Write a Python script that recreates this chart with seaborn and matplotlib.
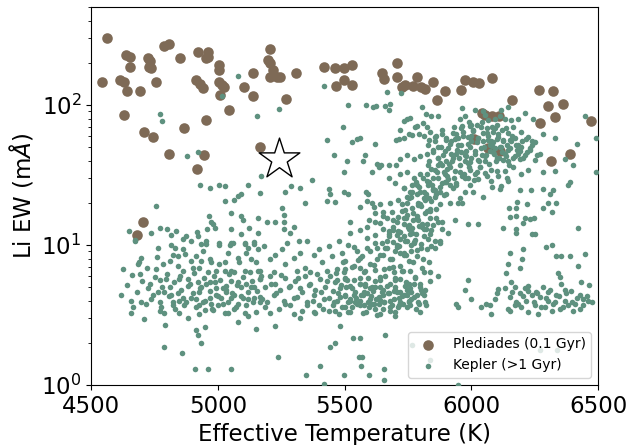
import numpy as np
import pandas as pd
import matplotlib
matplotlib.use("Agg")
import matplotlib.pyplot as plt
import seaborn as sns

# ---------------- Pleiades (0.1 Gyr) ----------------
pleiades_teff = [4563, 4543, 4614, 4630, 4642, 4630, 4637, 4653, 4653, 4693,
                 4725, 4732, 4727, 4737, 4756, 4788, 4807, 4709, 4743, 4808,
                 4851, 4867, 4922, 4962, 4954, 4962, 4914, 4930, 4941, 4954,
                 4946, 4917, 5004, 5006, 5006, 5017, 5025, 5009, 5044, 5104,
                 5139, 5139, 5164, 5207, 5196, 5207, 5218, 5207, 5231, 5246,
                 5270, 5306, 4704, 4682, 5420, 5460, 5499, 5528, 5465, 5499,
                 5528, 5649, 5654, 5705, 5705, 5728, 5736, 5768, 5784, 5800,
                 5815, 5847, 5863, 5894, 5958, 5974, 6005, 6029, 6081, 6160,
                 6042, 6053, 6081, 6108, 6266, 6321, 6302, 6329, 6361, 6271,
                 6472, 6313, 6388, 6010, 6066, 6113]
pleiades_ew = [299, 147, 150, 147, 125, 85, 228, 221, 188, 125,
               217, 205, 188, 183, 147, 265, 272, 64, 59, 45,
               217, 68, 240, 240, 217, 221, 150, 142, 133, 78,
               44, 35, 193, 178, 147, 140, 135, 118, 92, 135,
               168, 115, 50, 252, 210, 199, 178, 159, 159, 159,
               110, 170, 14.7, 11.8, 188, 183, 183, 193, 137, 150,
               139, 168, 154, 200, 159, 135, 140, 137, 159, 135,
               130, 147, 109, 125, 128, 150, 147, 143, 156, 109,
               87, 85, 83, 83, 128, 125, 98, 82, 102, 74,
               77, 40, 45, 57, 49, 47]

# ---------------- Kepler (>1 Gyr), read region by region ----------------
# cool stars, low Li
kep_cool_low_teff = [4671, 4816, 4829, 4895, 4934, 4954, 5006, 5046, 5059, 5105, 5118, 5144, 5158,
                     4763, 4862, 4822, 4842, 4697, 4684, 4914, 4934, 4967, 4973, 5006, 5026, 5079, 5085, 5111, 5151,
                     4625, 4691, 4756, 4783, 4809, 4842, 4862, 4895, 4901, 4927, 4960, 4993, 5026, 5052, 5065, 5105, 5125, 5158,
                     4730, 4724, 4770, 4796, 4809, 4848, 4881, 4888, 4921, 4934, 4954, 4967, 4987, 4993, 5019, 5033, 5052, 5079, 5092, 5111, 5131, 5144, 5164,
                     4618, 4658, 4664, 4697, 4737, 4763, 4770, 4789, 4816, 4822, 4842, 4848, 4862, 4868, 4895, 4914, 4927, 4941, 4967, 4973, 4993, 5013, 5033, 5039, 5052, 5065, 5079, 5098, 5118, 5144, 5164,
                     4658, 4710, 4770, 4789, 4822, 4848, 4881, 4914, 4927, 4947, 4980, 5000, 5026, 5039, 5065, 5105, 5118, 5151,
                     4914, 4921, 4934, 4789, 4858, 4908, 4960, 5050,
                     4640, 4660, 4680, 4700, 4715, 4720, 4745, 4750, 4775, 4780,
                     4800, 4805, 4825, 4830, 4850, 4855, 4875, 4880, 4900, 4905,
                     4925, 4930, 4945, 4950, 4970, 4975, 4985, 5000, 5010, 5020,
                     5030, 5045, 5055, 5070, 5075, 5090, 5100, 5110, 5120, 5135,
                     5140, 5155, 5170, 5175, 5185, 4690, 4760, 4870, 4940, 5040,
                     5130, 4790, 4950, 5080, 5150]
kep_cool_low_ew = [10.6, 10.0, 9.5, 10.6, 10.2, 10.2, 10.0, 10.0, 10.3, 10.2, 9.5, 10.2, 9.3,
                   9.5, 9.3, 8.5, 8.3, 8.1, 7.3, 8.3, 7.7, 7.9, 7.5, 7.3, 7.5, 8.1, 7.5, 8.8, 7.5,
                   6.7, 6.2, 6.7, 7.3, 7.7, 7.1, 6.5, 7.7, 6.9, 6.9, 6.4, 6.5, 6.5, 6.5, 6.4, 6.5, 6.4, 6.5,
                   5.3, 4.9, 5.6, 5.7, 5.0, 5.7, 5.7, 5.3, 5.4, 5.0, 5.3, 5.4, 5.4, 4.9, 4.9, 5.1, 5.5, 5.4, 5.0, 5.3, 5.0, 5.0, 5.7,
                   4.4, 4.0, 3.6, 3.9, 4.1, 4.6, 3.9, 4.6, 4.4, 3.9, 4.5, 4.0, 4.2, 3.7, 4.2, 4.1, 4.6, 3.9, 4.2, 3.8, 4.4, 4.2, 4.6, 3.9, 4.2, 4.4, 3.8, 4.2, 4.1, 4.2, 3.9,
                   3.25, 2.95, 3.4, 3.25, 3.7, 3.25, 3.0, 3.6, 3.2, 3.45, 3.45, 3.7, 3.25, 3.25, 3.5, 3.25, 3.1, 3.3,
                   2.47, 2.29, 2.0, 1.88, 1.68, 1.29, 1.29, 1.29,
                   5.2, 6.1, 4.6, 5.5, 3.8, 6.8, 4.4, 5.9, 3.6, 5.0,
                   6.2, 4.3, 5.4, 3.5, 6.0, 4.8, 3.9, 5.1, 4.5, 6.3,
                   3.7, 4.9, 5.8, 4.0, 4.7, 3.5, 6.0, 4.3, 5.6, 3.8,
                   4.8, 6.2, 4.5, 3.6, 5.2, 4.3, 5.9, 3.7, 4.6, 5.5,
                   3.9, 4.7, 6.0, 4.1, 3.6, 7.5, 8.2, 8.6, 9.0, 8.7,
                   8.0, 2.7, 2.6, 2.8, 2.5]

# cool stars, higher Li
kep_cool_high_teff = [4770, 4779, 4877, 4921, 4931, 4967, 5006, 5026, 5118, 5155,
                      5171, 5164, 4756, 5081, 5089, 5029, 5063, 5050, 4963, 4973,
                      4980, 5092, 5098, 5158, 4651, 4671, 4734, 4770, 4800, 4835,
                      4816, 4875, 4918, 4923, 4958, 4989, 5050, 5089, 5123, 5158,
                      4862, 4954, 5006, 5052, 5105, 5144, 5080, 5017]
kep_cool_high_ew = [86, 77, 43, 46, 27, 25.5, 27, 26.5, 27, 83,
                    31, 23.5, 19, 22.5, 23, 20.5, 20.8, 17, 16, 14.5,
                    14, 16, 15, 15.7, 12.5, 10.8, 12.2, 13.2, 13, 12.5,
                    11.8, 11.5, 12.3, 11.6, 13, 13.3, 13, 11.9, 13.2, 12.2,
                    11, 10.7, 10.4, 10.4, 10.4, 10.5, 161, 116]

# intermediate temperatures, upper part
kep_mid_high_teff = [5239, 5515, 5585, 5611, 5625, 5660, 5673, 5680, 5805, 5821,
                     5746, 5756, 5735, 5493, 5776, 5785, 5809, 5825, 5719, 5752,
                     5732, 5702, 5713, 5765, 5792, 5811, 5831, 5430, 5529, 5548,
                     5559, 5621, 5459, 5581, 5572, 5509, 5627, 5643, 5673, 5703,
                     5608, 5634, 5496, 5673, 5373, 5289, 5322, 5266, 5437, 5441,
                     5496, 5513, 5585, 5592, 5588, 5430, 5463, 5345, 5252, 5259,
                     5262, 5299, 5193, 5226, 5519, 5561, 5608, 5640, 5621, 5653,
                     5686, 5259, 5285, 5318, 5588, 5621, 5653, 5673, 5667, 5706,
                     5746, 5811,
                     5719, 5746, 5772, 5798, 5825, 5831, 5719, 5746, 5772, 5798,
                     5825, 5785, 5732, 5759, 5785, 5811, 5831, 5752, 5726, 5765,
                     5798, 5825, 5746, 5785, 5732, 5765, 5792, 5825, 5719, 5759,
                     5811, 5417, 5666, 5722, 6015]
kep_mid_high_ew = [94, 100, 100, 97, 98, 99, 92, 101, 96, 86,
                   79, 81, 77, 70, 70, 71, 74, 70, 66, 62,
                   58, 56, 57, 61, 62, 60, 56, 56, 54, 57,
                   58, 53, 44, 44, 40, 40, 38, 37, 37, 37,
                   33, 36, 33, 30, 29, 26.5, 25.5, 24, 25, 23.3,
                   24, 23.3, 24, 23, 20.6, 20.6, 20.4, 20, 18.4, 16.5,
                   14.6, 13.5, 14.5, 14.5, 14.5, 18.6, 20, 19.5, 16.8, 16,
                   17.2, 12.9, 12.1, 10.7, 13.4, 14.5, 12.9, 12, 10.7, 11.8,
                   10.7, 12.9,
                   41, 44, 41, 43, 45, 39.5, 32, 33, 30, 32,
                   28.5, 27, 25.5, 24, 23, 24, 21.7, 21.7, 19.5, 18.4,
                   19.5, 17.4, 16.5, 15.7, 14, 13.3, 13.6, 14, 12.4, 11.9,
                   11.5, 136, 124, 121, 92]

# hot stars, sparse
kep_hot_sparse_teff = [5842, 6145, 6447, 6493, 6493, 6418, 6401, 6371, 6331, 6283,
                       6184, 6158, 6283, 6329, 6283, 6322, 6309, 6381, 6388, 6191,
                       6234, 6181, 6174, 6221, 6302, 6316, 6283, 6335, 6147, 6151,
                       6177, 6204, 6210, 6230, 6247, 6177, 6174, 6237, 6250, 6125,
                       6421, 6081, 6116, 6112, 6046, 5993, 6007, 5963, 5947, 5987,
                       6026, 5934, 5882, 5908, 5875, 5961, 6046, 6118, 6210, 6243]
kep_hot_sparse_ew = [83, 97, 83, 58, 33, 53, 37, 41, 58, 62,
                     79, 78, 33, 34, 25, 24.5, 23, 27, 28, 24.5,
                     24.5, 20.4, 18.4, 19.5, 19.8, 17.2, 18.4, 19.8, 18.4, 15.8,
                     16, 14.4, 15.5, 15.2, 15.5, 13, 12.2, 11.9, 11.9, 13.2,
                     13.2, 26, 26.5, 25, 22, 27, 24, 19.8, 19.8, 14,
                     14.2, 15.1, 12.9, 12.1, 10.7, 95, 90, 92, 87, 80]

# hot stars, dense Li-rich clump
kep_clump_teff = [5868, 5954, 5974, 6020, 6053, 6066, 6092, 6112, 6131, 6039, 5993, 5961, 6164, 6138, 6092,
                  5836, 5855, 5882, 5901, 5928, 5947, 5967, 5987, 6007, 6026,
                  6046, 6066, 6085, 6105, 6125, 6145, 6171, 6197, 6224, 6237,
                  6000, 6079, 5921, 6151,
                  5829, 5849, 5868, 5888, 5908, 5928, 5947, 5960, 5980, 5993,
                  6013, 6026, 6039, 6059, 6072, 6085, 6099, 6112, 6131, 6151,
                  6171, 6191, 6210, 6230, 6250, 5901, 5974, 6053, 6145, 5941,
                  6000, 6092, 6125, 5868, 6184,
                  5829, 5855, 5875, 5895, 5914, 5934, 5954, 5974, 5993, 6013,
                  6033, 6053, 6079, 6105, 6131, 6164, 6197, 6224, 5849, 5908,
                  5961, 6026, 6079, 6145, 5987,
                  5829, 5855, 5882, 5901, 5928, 5954, 5842, 5875, 5914, 5974, 5941, 5862,
                  5836, 5862, 5849, 5882, 5836, 5855,
                  5880, 5900, 5920, 5940, 5960, 5980, 6000, 6020, 6040, 6060,
                  6080, 6100, 6120, 6140, 6160, 6180, 6200, 5910, 5950, 5990,
                  6030, 6070, 6110, 6150, 6190, 5870, 5890, 5930, 5970, 6010,
                  6050, 6090, 6000, 6040, 6080, 5960, 6120, 5860, 5850, 6220,
                  6240, 6260,
                  5855, 5870, 5885, 5895, 5905, 5915, 5925, 5935, 5945, 5955,
                  5965, 5975, 5985, 5995, 6005, 6015, 6025, 6035, 6045, 6055,
                  6065, 6075, 6085, 6095, 6105, 6115, 6125, 6135, 6145, 6155,
                  6165, 6175, 6185, 6195, 6205, 6215, 6230, 6250, 6270, 5900,
                  5940, 5985, 6020, 6060, 6100, 6140, 5990, 6060, 6100, 5930]
kep_clump_ew = [84, 80, 83, 72, 85, 78, 80, 83, 79, 70, 71, 71, 70, 68, 69,
                64, 59, 66, 56, 63, 58, 64, 59, 66, 58,
                63, 56, 64, 59, 55, 63, 58, 64, 59, 55,
                55, 55, 55, 56,
                52, 46.5, 50, 44, 49, 41.6, 52, 46.5, 43, 50,
                45, 40.5, 49, 44, 52, 46.5, 42, 50, 45, 49,
                43, 47, 44, 49, 40.5, 39.5, 39.5, 39.5, 39.5, 45,
                42, 49, 40.5, 42, 52,
                37, 34.5, 38.5, 32, 36, 33.5, 37, 30, 34.5, 32,
                36, 32.5, 34.5, 31, 33.5, 36, 32, 34.5, 30, 29.5,
                31, 29.5, 28.5, 28.5, 38.5,
                27, 24.5, 27.5, 23, 25.5, 21.7, 20.6, 19.6, 20, 24, 27.5, 23,
                17.5, 15.7, 13.9, 14.7, 11.9, 10.7,
                50, 58, 45, 62, 52, 47, 60, 54, 44, 63,
                51, 57, 46, 52, 60, 48, 55, 38, 42, 36,
                40, 38, 42, 37, 41, 42, 33, 30, 32, 29,
                50, 45, 72, 76, 70, 68, 66, 60, 48, 46,
                52, 44,
                55, 37, 62, 47, 35, 53, 40, 57, 48, 33,
                60, 44, 53, 39, 65, 47, 58, 36, 55, 43,
                60, 47, 54, 40, 62, 50, 56, 43, 48, 55,
                42, 52, 45, 50, 42, 57, 48, 54, 45, 28,
                27, 30, 33, 31, 34, 30, 75, 68, 72, 70]

# intermediate temperatures, low Li band
kep_mid_low_teff = [5180, 5206, 5226, 5252, 5272, 5266, 5299, 5325, 5345, 5377,
                    5397, 5410, 5437, 5450, 5469, 5489, 5502, 5515, 5535, 5548,
                    5562, 5588, 5601, 5621, 5640, 5654, 5667, 5686, 5706, 5719,
                    5732, 5752, 5772, 5785, 5805, 5825, 5831, 5167, 5220, 5312,
                    5364, 5430, 5496, 5575, 5693, 5759, 5811, 5627, 5476, 5351,
                    5167, 5187, 5206, 5226, 5246, 5266, 5285, 5305, 5325, 5345,
                    5364, 5384, 5404, 5423, 5443, 5463, 5483, 5502, 5522, 5542,
                    5562, 5581, 5601, 5621, 5640, 5660, 5680, 5700, 5719, 5739,
                    5759, 5778, 5798, 5818, 5838,
                    5535, 5562, 5588, 5614, 5634, 5654, 5673, 5693, 5713, 5732,
                    5752, 5772, 5792, 5811, 5575, 5680, 5746, 5601, 5647, 5719,
                    5167, 5193, 5220, 5239, 5259, 5285, 5312, 5331, 5351, 5377,
                    5397, 5417, 5437, 5456, 5483, 5502, 5522, 5206, 5299, 5384,
                    5476, 5325,
                    5226, 5483, 5533, 5562, 5658, 5443, 5463, 5235, 5404, 5555,
                    5568, 5564, 5656, 5348, 5498, 5594, 5656, 5417, 5948, 5765,
                    5837, 6271, 6337,
                    5455, 5470, 5485, 5500, 5515, 5530, 5545, 5560, 5575, 5590,
                    5605, 5620, 5635, 5650, 5665, 5680, 5695, 5710, 5725, 5740,
                    5755, 5470, 5530, 5590, 5650, 5700, 5760, 5780, 5800, 5620,
                    5560, 5500,
                    5210, 5230, 5250, 5265, 5280, 5300, 5315, 5330, 5350, 5360,
                    5375, 5390, 5405, 5415, 5430, 5440, 5455, 5465, 5475, 5490,
                    5505, 5520, 5535, 5550, 5565, 5580, 5595, 5610, 5625, 5640,
                    5655, 5670, 5685, 5700, 5715, 5730, 5745, 5760, 5775, 5790,
                    5805, 5820, 5585, 5640, 5700, 5520, 5460, 5380, 5620, 5560,
                    5500]
kep_mid_low_ew = [9.8, 7.9, 8.5, 9.3, 10.3, 7.3, 8.1, 8.8, 6.9, 8.5,
                  9.3, 7.5, 9.8, 8.3, 6.7, 8.8, 7.7, 10, 7.1, 9.0,
                  8.1, 9.5, 7.3, 10.3, 8.5, 6.7, 9.5, 7.9, 10, 7.1,
                  8.8, 7.7, 10.3, 8.3, 6.9, 9.3, 7.5, 6.5, 6.4, 6.5,
                  6.4, 6.5, 6.4, 6.4, 6.4, 6.5, 6.4, 7.9, 10.6, 10.6,
                  5.7, 5.0, 6.0, 5.3, 4.75, 5.85, 5.1, 5.5, 4.9, 6.0,
                  5.3, 4.75, 5.7, 5.0, 6.0, 5.4, 4.9, 5.7, 5.1, 4.6,
                  5.85, 5.3, 4.9, 5.5, 5.0, 6.0, 5.3, 4.75, 5.7, 5.1,
                  4.9, 5.85, 5.3, 4.75, 5.5,
                  4.4, 4.0, 4.5, 3.8, 4.25, 3.9, 4.5, 4.1, 3.7, 4.4,
                  4.0, 4.25, 3.8, 4.4, 3.7, 3.6, 3.6, 4.1, 4.6, 4.6,
                  4.25, 3.9, 4.4, 3.5, 4.0, 3.7, 4.25, 3.4, 3.9, 4.4,
                  3.7, 4.1, 3.4, 3.9, 4.25, 3.6, 4.0, 3.25, 3.2, 3.25,
                  3.2, 3.0,
                  2.64, 2.64, 2.18, 2.18, 2.28, 1.88, 1.99, 1.58, 1.37, 1.58,
                  1.58, 1.37, 1.29, 1.18, 1.18, 1.18, 1.09, 1.02, 1.0, 1.93,
                  1.51, 1.78, 1.78,
                  4.7, 4.0, 5.2, 4.4, 3.9, 4.9, 4.2, 5.3, 4.6, 3.9,
                  4.3, 5.0, 3.8, 4.4, 5.1, 4.0, 4.7, 3.6, 4.3, 5.4,
                  3.9, 5.6, 3.6, 5.8, 3.5, 5.8, 4.6, 3.5, 4.8, 3.5,
                  3.7, 5.8,
                  5.3, 4.5, 6.1, 3.8, 5.0, 4.2, 5.8, 4.6, 3.7, 5.2,
                  4.0, 6.2, 4.6, 3.5, 5.5, 4.2, 3.7, 6.3, 4.5, 3.6,
                  5.0, 4.1, 5.6, 3.8, 4.4, 5.1, 3.6, 4.7, 4.1, 5.6,
                  3.9, 4.5, 3.7, 5.0, 4.2, 3.8, 4.8, 4.1, 5.3, 3.9,
                  4.5, 3.7, 3.3, 3.2, 3.3, 3.3, 3.4, 3.3, 6.6, 6.9,
                  6.7]

# rising diagonal band (lithium dip edge)
kep_band_teff = [5700, 5720, 5740, 5760, 5780, 5800, 5820, 5690, 5730, 5770,
                 5810, 5750, 5790, 5830, 5680, 5710, 5740, 5770, 5800, 5760,
                 5780, 5810, 5840, 5850, 5860, 5870, 5820, 5790,
                 5699, 5732, 5765, 5798, 5831, 5850, 5877, 5890, 5916, 5811, 5745, 5712,
                 5614, 5653, 5680, 5712, 5738, 5771, 5791, 5817, 5640, 5692, 5752, 5804, 5837, 5594, 5666, 5732,
                 5521, 5561, 5587, 5620, 5646, 5673, 5706, 5738, 5765, 5784, 5535, 5600, 5653, 5692, 5567, 5732, 5627, 5778,
                 5495, 5528, 5554, 5581, 5614, 5640, 5673, 5699, 5725, 5752,
                 5778, 5798, 5508, 5561, 5607, 5653, 5706, 5745, 5784,
                 5502, 5541, 5574, 5607, 5640, 5679, 5719, 5758, 5798, 5515, 5574, 5627, 5699, 5817,
                 5660, 5675, 5690, 5705, 5715, 5725, 5735, 5745, 5755, 5765,
                 5775, 5785, 5795, 5805, 5815, 5825, 5835, 5845, 5855, 5865,
                 5875, 5885, 5895, 5905, 5690, 5720, 5760, 5800, 5840, 5870]
kep_band_ew = [9, 11, 8.5, 10, 12, 9.5, 13, 7, 6.5, 7.5,
               8, 13.5, 15, 11, 8, 12.5, 15.5, 17, 19, 22,
               28, 30, 35, 25, 18, 30, 23, 20,
               27.6, 25.4, 26.8, 24, 28.3, 24.7, 26.1, 22.8, 26.8, 21.5, 22.1, 21,
               18.8, 17.3, 19.9, 15.9, 17.8, 15.1, 19.3, 16.8, 14.3, 13.5, 13.9, 13.5, 15.5, 15.1, 15.5, 15.5,
               12.1, 12.8, 11.2, 11.8, 10.3, 11.5, 9.7, 10.6, 12.1, 9.2, 9.7, 9.0, 8.5, 12.8, 8.3, 8.5, 9.5, 10.9,
               7.6, 7.0, 7.8, 6.5, 7.2, 5.9, 6.8, 5.6, 6.5, 5.3,
               5.9, 5.0, 5.6, 5.3, 5.0, 4.8, 4.6, 4.4, 4.4,
               4.3, 3.9, 4.4, 3.8, 4.05, 3.4, 3.9, 3.7, 3.3, 3.3, 3.25, 3.16, 3.1, 3.9,
               9.5, 12.5, 10.5, 14.5, 9.8, 17.5, 11.5, 20, 13, 24,
               10.5, 16, 26, 14, 21, 32, 18, 27, 22, 33,
               24, 37, 28, 31, 15, 8.7, 9, 10.2, 12.7, 14.5]

# hot stars, low Li
kep_hot_low_teff = [5875, 5855, 5842, 5836, 5868, 5987, 5974, 6000, 5941, 5947,
                    6039, 6059, 6072, 6079, 6099, 6105, 6092, 6151, 6145, 6138,
                    6158, 6204, 6200, 6191, 6296, 6316, 6335, 6355, 6388, 6447,
                    6421, 6342, 6355, 6434, 6368, 6394, 6427, 6460, 6350, 6463,
                    6131, 6151, 6171, 6177, 6191, 6210, 6217, 6237, 6250, 6270,
                    6283, 6289, 6302, 6322, 6335, 6348, 6368, 6381, 6408, 6427,
                    6440, 6145, 6197, 6224, 6263, 6151, 6171, 6256, 6316, 6401,
                    6302, 6224,
                    6160, 6185, 6205, 6225, 6245, 6260, 6275, 6295, 6310, 6330,
                    6345, 6360, 6375, 6395, 6415, 6440, 6455, 6475]
kep_hot_low_ew = [10.3, 9.5, 9.8, 6.4, 6.0, 5.6, 4.8, 4.1, 3.8, 3.6,
                  3.6, 3.8, 3.7, 3.2, 4.5, 4.85, 4.1, 8.8, 7.3, 6.3,
                  5.4, 9.3, 7.9, 6.8, 9.6, 10, 8.3, 8.3, 8.3, 8.6,
                  7.1, 6.3, 5.3, 5.4, 4.8, 4.65, 4.4, 4.0, 5.9, 5.2,
                  4.9, 4.25, 5.0, 3.9, 4.5, 4.9, 4.0, 4.4, 3.7, 4.25,
                  5.0, 3.6, 4.0, 3.8, 4.4, 3.5, 4.0, 3.7, 3.8, 3.5,
                  4.1, 3.5, 3.6, 3.3, 3.2, 3.4, 3.7, 4.6, 3.4, 3.4,
                  4.6, 5.1,
                  4.6, 3.8, 4.3, 4.7, 3.9, 4.5, 3.6, 4.2, 4.8, 3.9,
                  4.3, 3.6, 4.5, 3.9, 4.2, 3.7, 4.3, 3.9]

# highlighted star
star_teff = [5240]
star_ew = [41]

x_ticks = [4500, 5000, 5500, 6000, 6500]
pleiades_label = "Plediades (0.1 Gyr)"
kepler_label = "Kepler (>1 Gyr)"

kepler_teff = (kep_cool_low_teff + kep_cool_high_teff + kep_mid_high_teff +
               kep_hot_sparse_teff + kep_clump_teff + kep_mid_low_teff +
               kep_band_teff + kep_hot_low_teff)
kepler_ew = (kep_cool_low_ew + kep_cool_high_ew + kep_mid_high_ew +
             kep_hot_sparse_ew + kep_clump_ew + kep_mid_low_ew +
             kep_band_ew + kep_hot_low_ew)

pleiades = pd.DataFrame({"teff": pleiades_teff, "ew": pleiades_ew})
kepler = pd.DataFrame({"teff": kepler_teff, "ew": kepler_ew})
star = pd.DataFrame({"teff": star_teff, "ew": star_ew})

brown = "#7e6a56"
green = "#5e917f"

fig, ax = plt.subplots(figsize=(6.29, 4.45), dpi=100)
fig.subplots_adjust(left=0.145, right=0.951, top=0.984, bottom=0.135)

sns.scatterplot(data=pleiades, x="teff", y="ew", color=brown, s=58,
                linewidth=0, label=pleiades_label, ax=ax, zorder=2)
sns.scatterplot(data=kepler, x="teff", y="ew", color=green, s=16,
                linewidth=0, label=kepler_label, ax=ax, zorder=3)
sns.scatterplot(data=star, x="teff", y="ew", marker="*", s=950,
                facecolor="white", edgecolor="black", linewidth=1.0,
                ax=ax, zorder=5, legend=False)

ax.set_yscale("log")
ax.set_xlim(4500, 6500)
ax.set_ylim(1, 500)
ax.set_xticks(x_ticks)
ax.tick_params(axis="both", which="major", labelsize=16.5)
ax.set_xlabel("Effective Temperature (K)", fontsize=16.5)
ax.set_ylabel(r"Li EW (m$\AA$)", fontsize=16.5)

ax.legend(loc="lower right", fontsize=10, frameon=True)

fig.savefig("out.png", dpi=100)
